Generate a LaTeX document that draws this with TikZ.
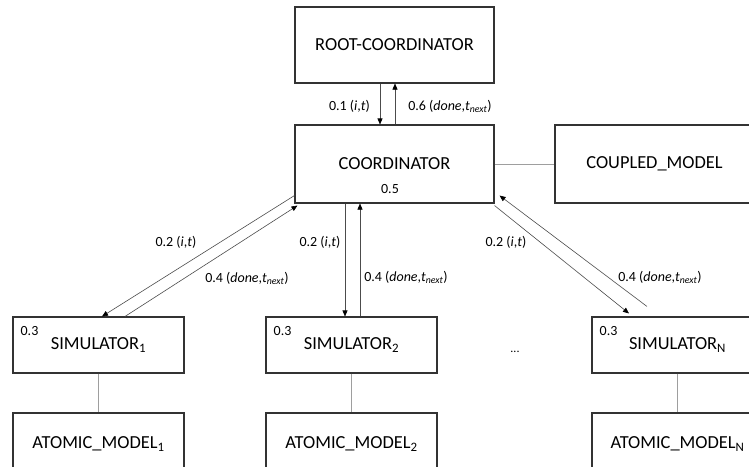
\documentclass[tikz,border=0pt]{standalone}
\usepackage{fontspec}
\setmainfont{Carlito}
\usetikzlibrary{arrows.meta}

% italic time-of-next-event symbol
\newcommand\tnxt{\textit{t}\textsubscript{\textit{next}}}

\tikzset{
  box/.style={draw=black!80, line width=1.1pt, inner sep=0pt,
    font=\fontsize{18.4}{20}\selectfont},
  rootbox/.style={box, minimum width=199pt, minimum height=76pt},
  coordbox/.style={box, minimum width=199pt, minimum height=78pt},
  simbox/.style={box, minimum width=171pt, minimum height=56pt},
  atombox/.style={box, minimum width=171pt, minimum height=62pt},
  msg/.style={draw=black!70, line width=0.6pt,
    -{Triangle[length=6pt,width=5pt,color=black]}},
  link/.style={draw=black!38, line width=1pt},
  lbl/.style={inner sep=0pt, font=\fontsize{14}{16}\selectfont},
}

\begin{document}
\begin{tikzpicture}[x=1pt, y=-1pt]
\useasboundingbox (0,0) rectangle (749,466);
\clip (0,0) rectangle (749,466);

% boxes
\node[rootbox]  (root)    at (394.5,45)  {ROOT-COORDINATOR};
\node[coordbox] (coord)   at (394.5,164) {COORDINATOR};
\node[coordbox] (coupled) at (654.5,164) {COUPLED\_MODEL};

\node[simbox] (sim1) at (98.5,345)  {SIMULATOR\textsubscript{1}};
\node[simbox] (sim2) at (351.5,345) {SIMULATOR\textsubscript{2}};
\node[simbox] (simN) at (677.5,345) {SIMULATOR\textsubscript{N}};

\node[atombox] (at1) at (98.5,444)  {ATOMIC\_MODEL\textsubscript{1}};
\node[atombox] (at2) at (351.5,444) {ATOMIC\_MODEL\textsubscript{2}};
\node[atombox] (atN) at (677.5,444) {ATOMIC\_MODEL\textsubscript{N}};

% step numbers inside boxes
\node[lbl] (n5)  at (390,189) {0.5};
\node[lbl, anchor=west] (n3a) at ([xshift=8pt,yshift=-15pt]sim1.north west) {0.3};
\node[lbl, anchor=west] (n3b) at ([xshift=8pt,yshift=-15pt]sim2.north west) {0.3};
\node[lbl, anchor=west] (n3c) at ([xshift=8pt,yshift=-15pt]simN.north west) {0.3};

% model links
\draw[link] (coord.east) -- (coupled.west);
\draw[link] (sim1.south) -- (at1.north);
\draw[link] (sim2.south) -- (at2.north);
\draw[link] (simN.south) -- (atN.north);

% root <-> coordinator
\draw[msg] ([xshift=-14.5pt]root.south) -- ([xshift=-14.5pt]coord.north);
\draw[msg] ([xshift=0.5pt]coord.north) -- ([xshift=0.5pt]root.south);
\node[lbl] (l01) at (349.5,106) {0.1 (\textit{i},\textit{t})};
\node[lbl] (l06) at (450,106) {0.6 (\textit{done},\tnxt)};

% coordinator <-> simulator 1
\draw[msg] ([yshift=8pt]coord.south west) -- ([xshift=3.5pt]sim1.north);
\draw[msg] ([xshift=26.5pt]sim1.north) -- ([xshift=3pt,yshift=-2pt]coord.south west);
\node[lbl] (l2a) at (176,242) {0.2 (\textit{i},\textit{t})};
\node[lbl] (l4a) at (247,278) {0.4 (\textit{done},\tnxt)};

% coordinator <-> simulator 2
\draw[msg] ([xshift=-49.5pt]coord.south) -- ([xshift=-6.5pt]sim2.north);
\draw[msg] ([xshift=8.5pt]sim2.north) -- ([xshift=-34.5pt]coord.south);
\node[lbl] (l2b) at (320,242) {0.2 (\textit{i},\textit{t})};
\node[lbl] (l4b) at (406,277) {0.4 (\textit{done},\tnxt)};

% coordinator <-> simulator N
\draw[msg] ([yshift=-2pt]coord.south east) -- ([xshift=-48.5pt,yshift=3pt]simN.north);
\draw[msg] ([xshift=-30.5pt,yshift=10pt]simN.north) -- ([xshift=5pt,yshift=8pt]coord.south east);
\node[lbl] (l2c) at (506,242) {0.2 (\textit{i},\textit{t})};
\node[lbl] (l4c) at (660,277) {0.4 (\textit{done},\tnxt)};

% further simulators
\node[lbl, font=\fontsize{12}{14}\selectfont] (dots) at (515,352) {...};
\end{tikzpicture}
\end{document}
